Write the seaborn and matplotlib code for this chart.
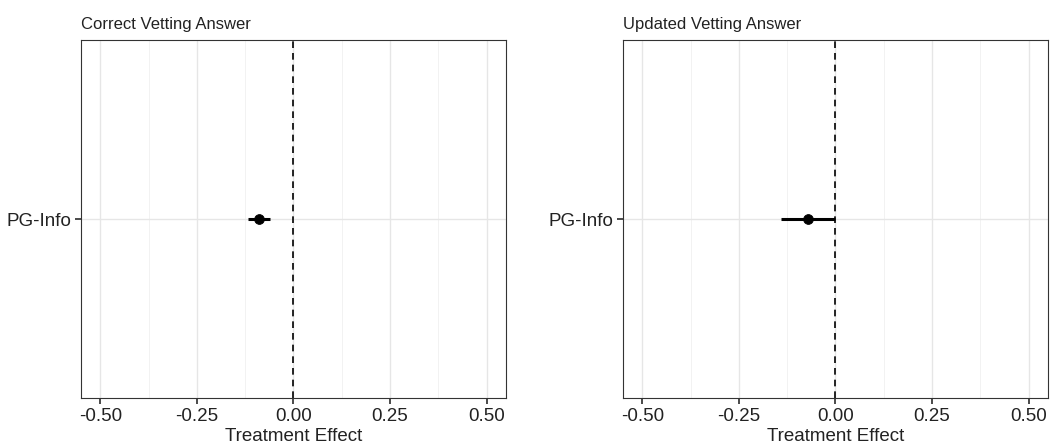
import numpy as np
import pandas as pd
import seaborn as sns
import matplotlib.pyplot as plt

# donnees
panels = ["Correct Vetting Answer", "Updated Vetting Answer"]
terms = ["PG-Info", "PG-Info"]
estimates = [-0.088, -0.072]
ci_low = [-0.117, -0.142]
ci_high = [-0.060, 0.000]
xticks = [-0.50, -0.25, 0.00, 0.25, 0.50]

df = pd.DataFrame({"panel": panels, "term": terms, "est": estimates,
                   "lo": ci_low, "hi": ci_high})

sns.set_theme(style="white")
plt.rcParams['font.family'] = ['Liberation Sans', 'DejaVu Sans']

fig = plt.figure(figsize=(10.53, 4.47), dpi=100)
lefts = [0.0769, 0.5916]

for i, row in df.iterrows():
    ax = fig.add_axes([lefts[i], 0.1096, 0.4036, 0.8009])
    sub = df.iloc[[i]]
    ax.hlines(sub["term"], sub["lo"], sub["hi"], color="black", lw=2.2, zorder=3)
    sns.scatterplot(data=sub, x="est", y="term", ax=ax, color="black", s=50,
                    edgecolor="black", zorder=4, legend=False)
    ax.axvline(0, color="black", ls=(0, (4, 3)), lw=1.2, zorder=2)
    ax.set_xlim(-0.55, 0.55)
    ax.set_ylim(-1.0, 1.0)
    ax.set_xticks(xticks)
    ax.set_xticklabels([f"{t:.2f}" for t in xticks])
    ax.set_xticks(np.arange(-0.375, 0.5, 0.25), minor=True)
    ax.grid(True, which="major", color="#e6e6e6", lw=1.0, zorder=0)
    ax.grid(True, which="minor", axis="x", color="#f0f0f0", lw=0.6, zorder=0)
    ax.set_axisbelow(True)
    for s in ax.spines.values():
        s.set_color("#333333")
        s.set_linewidth(0.8)
    ax.tick_params(axis="both", which="major", length=4, color="#333333",
                   labelsize=13.5, labelcolor="#222222", bottom=True, left=True, pad=3)
    ax.tick_params(axis="x", which="minor", length=0)
    ax.set_xlabel("Treatment Effect", fontsize=13.5, color="#222222", labelpad=2)
    ax.set_ylabel("")
    ax.set_title(row["panel"], loc="left", fontsize=12, color="#222222", pad=8)

fig.savefig("out.png", dpi=100)
